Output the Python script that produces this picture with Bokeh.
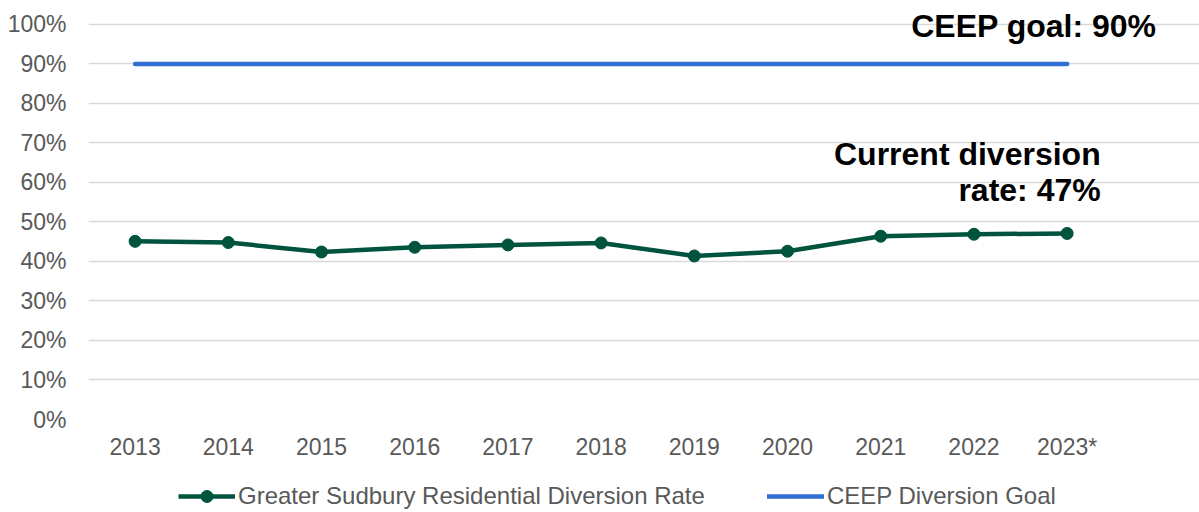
from bokeh.plotting import figure
from bokeh.layouts import column
from bokeh.models import (Range1d, FixedTicker, NumeralTickFormatter, Legend, LegendItem, Label)
from bokeh.embed import file_html
from bokeh.resources import INLINE

years = ["2013", "2014", "2015", "2016", "2017", "2018", "2019", "2020", "2021", "2022", "2023*"]
diversion_rate = [0.451, 0.448, 0.424, 0.436, 0.442, 0.447, 0.414, 0.426, 0.464, 0.469, 0.471]
ceep_goal = [0.90] * len(years)
y_ticks = [0.0, 0.1, 0.2, 0.3, 0.4, 0.5, 0.6, 0.7, 0.8, 0.9, 1.0]

xs = list(range(len(years)))

FONT = "Liberation Sans"
GREEN = "#00533D"
BLUE = "#2E6FD0"
GREY = "#595959"

p = figure(width=1199, height=462, output_backend="svg", toolbar_location=None,
           x_range=Range1d(-0.5, 11.42), y_range=Range1d(0, 1.0506),
           min_border_left=88, min_border_right=0, min_border_top=4, min_border_bottom=43)
p.outline_line_color = None
p.background_fill_color = "white"
p.border_fill_color = "white"

p.xgrid.grid_line_color = None
p.ygrid.grid_line_color = "#D9D9D9"
p.ygrid.grid_line_width = 1.5

p.yaxis.ticker = FixedTicker(ticks=y_ticks)
p.yaxis.formatter = NumeralTickFormatter(format="0%")
p.xaxis.ticker = FixedTicker(ticks=xs)
p.xaxis.major_label_overrides = {i: y for i, y in enumerate(years)}

for ax in (p.xaxis[0], p.yaxis[0]):
    ax.axis_line_color = None
    ax.major_tick_line_color = None
    ax.minor_tick_line_color = None
    ax.major_tick_out = 0
    ax.major_tick_in = 0
    ax.minor_tick_out = 0
    ax.minor_tick_in = 0
    ax.major_label_text_font = FONT
    ax.major_label_text_font_size = "23px"
    ax.major_label_text_color = GREY
p.yaxis.major_label_standoff = 22
p.xaxis.major_label_standoff = 14

r_goal = p.line(xs, ceep_goal, line_color=BLUE, line_width=4.5, line_cap="round")
r_rate = p.line(xs, diversion_rate, line_color=GREEN, line_width=4.5, line_join="round")
r_pts = p.scatter(xs, diversion_rate, size=12, marker="circle", fill_color=GREEN, line_color=GREEN)

for txt, lx, ly in [("CEEP goal: 90%", 10.96, 0.997),
                    ("Current diversion", 10.36, 0.673),
                    ("rate: 47%", 10.36, 0.582)]:
    p.add_layout(Label(x=lx, y=ly, text=txt, text_align="right", text_baseline="middle",
                       text_font=FONT, text_font_style="bold", text_font_size="32px",
                       text_color="black"))

# Legend row below the chart (proxy renderers hold a single NaN so nothing is drawn in the row)
nan = float("nan")
lf = figure(width=1199, height=50, output_backend="svg", toolbar_location=None,
            x_range=Range1d(0, 1), y_range=Range1d(0, 1),
            x_axis_type=None, y_axis_type=None,
            min_border_left=0, min_border_right=0, min_border_top=0, min_border_bottom=0)
lf.grid.visible = False
lf.outline_line_color = None
lf.border_fill_color = "white"
lg_rate = lf.line([nan], [nan], line_color=GREEN, line_width=4.5)
lg_pts = lf.scatter([nan], [nan], size=12, marker="circle", fill_color=GREEN, line_color=GREEN)
lg_goal = lf.line([nan], [nan], line_color=BLUE, line_width=4.5, line_cap="round")

legend = Legend(items=[
    LegendItem(label="Greater Sudbury Residential Diversion Rate", renderers=[lg_rate, lg_pts]),
    LegendItem(label="CEEP Diversion Goal", renderers=[lg_goal]),
], orientation="horizontal", location=(90, 1))
legend.label_text_font = FONT
legend.label_text_font_size = "24px"
legend.label_text_color = GREY
legend.glyph_width = 57
legend.glyph_height = 30
legend.label_standoff = 3
legend.spacing = 62
legend.padding = 0
legend.margin = 0
legend.border_line_color = None
legend.background_fill_alpha = 0
lf.add_layout(legend, "center")

layout = column(p, lf, spacing=0)
open("out.html", "w").write(file_html(layout, INLINE))
